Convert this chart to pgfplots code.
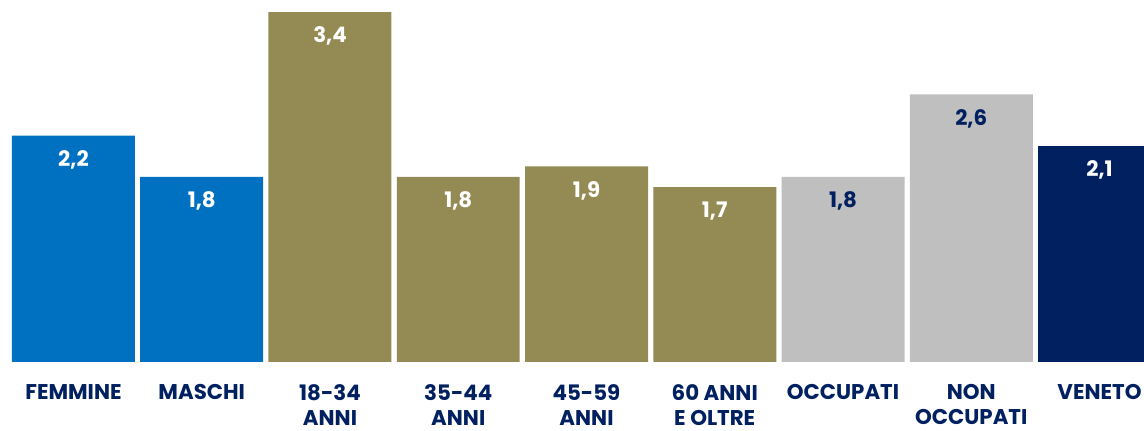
\documentclass[border=0pt]{standalone}
\usepackage{fontspec}
\setmainfont{Poppins}
\usepackage{pgfplots}
\pgfplotsset{compat=1.18}
\definecolor{blu}{HTML}{0070C0}
\definecolor{oliva}{HTML}{948A54}
\definecolor{grigio}{HTML}{BFBFBF}
\definecolor{navy}{HTML}{002060}

\begin{document}
\begin{tikzpicture}
\begin{axis}[
    scale only axis,
    width=858pt, height=271.5pt,
    xmin=-0.573, xmax=8.347,
    ymin=0, ymax=3.518,
    ybar, bar width=0.959,
    every axis plot/.append style={bar shift=0pt, draw=none},
    axis line style={draw=none},
    major tick length=0pt,
    ymajorticks=false,
    xtick={0,...,8},
    xticklabels={FEMMINE, MASCHI, {18-34\\ANNI}, {35-44\\ANNI}, {45-59\\ANNI},
        {60 ANNI\\E OLTRE}, OCCUPATI, {NON\\OCCUPATI}, VENETO},
    xticklabel style={anchor=north, align=center, text=navy, inner sep=0pt,
        font=\bfseries\fontsize{16}{19}\selectfont, yshift=-16.5pt},
    /pgf/number format/use comma,
    /pgf/number format/fixed,
    /pgf/number format/fixed zerofill,
    /pgf/number format/precision=1,
    /pgf/number format/assume math mode=true,
    nodes near coords,
    point meta=y,
    nodes near coords style={anchor=center, yshift=-18pt, text=white,
        font=\bfseries\fontsize{16}{16}\selectfont},
]
% sesso
\addplot[fill=blu] coordinates {(0,2.2) (1,1.8)};
% classi di eta
\addplot[fill=oliva] coordinates {(2,3.4) (3,1.8) (4,1.9) (5,1.7)};
% condizione
\addplot[fill=grigio, nodes near coords style={text=navy}] coordinates {(6,1.8) (7,2.6)};
% totale
\addplot[fill=navy] coordinates {(8,2.1)};
\end{axis}
\pgfresetboundingbox
\path (current axis.north east) ([yshift=-51.75pt]current axis.south west);
\end{tikzpicture}
\end{document}
